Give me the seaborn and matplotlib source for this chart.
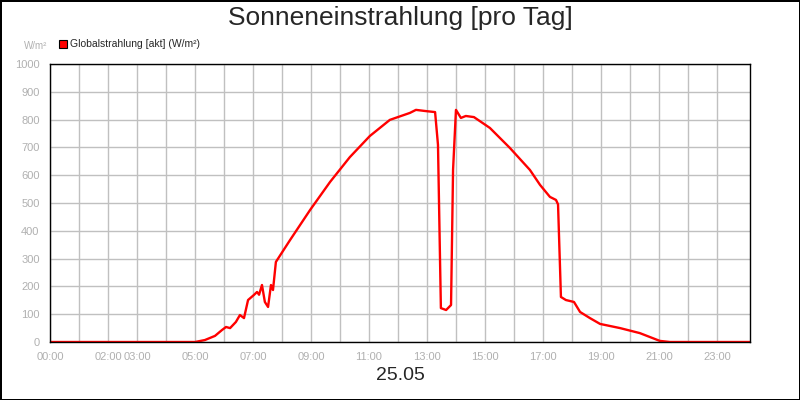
import matplotlib
matplotlib.use("Agg")
import matplotlib.pyplot as plt
import seaborn as sns
import pandas as pd

hours = [0, 5.0, 5.34, 5.69, 5.93, 6.07, 6.21, 6.41, 6.55, 6.69, 6.83, 7.03, 7.14, 7.21, 7.31, 7.41, 7.52,
         7.62, 7.69, 7.79, 8.28, 8.97, 9.66, 10.34, 11.03, 11.72, 12.41, 12.62, 12.93, 13.28, 13.38,
         13.48, 13.66, 13.83, 13.9, 14.0, 14.17, 14.34, 14.62, 15.17, 15.86, 16.55, 16.9, 17.24,
         17.45, 17.52, 17.62, 17.79, 18.07, 18.28, 18.45, 18.62, 18.97, 19.66, 20.34, 21.03, 21.38, 24.2]
values = [0, 0, 7, 22, 43, 54, 50, 72, 97, 86, 151, 169, 180, 170, 205, 144, 126,
          205, 187, 288, 367, 475, 576, 665, 741, 799, 824, 835, 831, 827, 709,
          122, 115, 133, 620, 835, 806, 813, 809, 770, 698, 619, 565, 522,
          511, 495, 162, 151, 144, 108, 97, 86, 65, 50, 32, 4, 0, 0]
tick_hours = [0, 2, 3, 5, 7, 9, 11, 13, 15, 17, 19, 21, 23]
tick_labels = ["00:00", "02:00", "03:00", "05:00", "07:00", "09:00", "11:00", "13:00",
               "15:00", "17:00", "19:00", "21:00", "23:00"]

sns.set_style("white")
plt.rcParams['font.family'] = ['Liberation Sans', 'DejaVu Sans']
df = pd.DataFrame({"h": hours, "v": values})

fig = plt.figure(figsize=(8, 4), dpi=100)
fig.patch.set_edgecolor("black"); fig.patch.set_linewidth(2)
ax = fig.add_axes([50/800, 58/400, 700/800, 278/400])
sns.lineplot(data=df, x="h", y="v", color="#ff0000", lw=1.7, ax=ax)
ax.set_xlim(0, 24.14)
ax.set_ylim(0, 1000)
ax.set_xticks(tick_hours)
ax.set_xticklabels(tick_labels)
ax.set_xticks(range(0, 24), minor=True)
ax.set_yticks(range(0, 1001, 100))
ax.grid(True, which="both", color="#c0c0c0", lw=1)
ax.set_axisbelow(True)
for s in ax.spines.values():
    s.set_color("black"); s.set_linewidth(1)
ax.tick_params(colors="#b0b0b0", labelsize=8, length=4, width=1, direction="out")
ax.tick_params(axis="x", which="minor", length=0)
ax.set_xlabel(""); ax.set_ylabel("")
fig.text(0.5, 0.955, "Sonneneinstrahlung [pro Tag]", ha="center", va="center", fontsize=19)
fig.text(0.5, 0.06, "25.05", ha="center", va="center", fontsize=14)
fig.text(24/800, 1-46/400, "W/m²", ha="left", va="center", fontsize=7, color="#b0b0b0")
fig.patches.append(plt.Rectangle((59/800, 1-48/400), 8/800, 8/400, transform=fig.transFigure,
                                 facecolor="#ff0000", edgecolor="black", lw=0.8))
fig.text(70/800, 1-44/400, "Globalstrahlung [akt] (W/m²)", ha="left", va="center", fontsize=7.5)
fig.savefig("out.png", dpi=100, edgecolor=fig.get_edgecolor())
